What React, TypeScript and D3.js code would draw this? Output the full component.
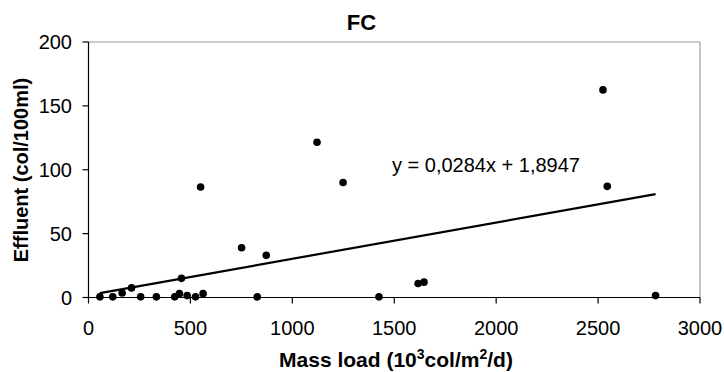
import React from "react";
import * as d3 from "d3";

const massLoad = [56, 119, 165, 211, 256, 333, 423, 446, 456, 484, 525, 550, 562, 751, 828, 872, 1121, 1249, 1425, 1617, 1646, 2524, 2545, 2782];
const effluent = [0.5, 0.5, 3.5, 7.5, 0.5, 0.5, 0.5, 3, 15, 1.5, 0.5, 86.5, 3, 39, 0.5, 33, 121.5, 90, 0.5, 11, 12, 162.5, 87, 1.5];
const xTicks = [0, 500, 1000, 1500, 2000, 2500, 3000];
const yTicks = [0, 50, 100, 150, 200];
const slope = 0.0284;
const intercept = 1.8947;
const equationLabel = "y = 0,0284x + 1,8947";

const W = 724, H = 372;
const left = 88.5, right = 700, top = 42, bottom = 297.5;
const font = "'Liberation Sans', Arial, sans-serif";

export default function App() {
  const x = d3.scaleLinear().domain([0, 3000]).range([left, right]);
  const y = d3.scaleLinear().domain([0, 200]).range([bottom, top]);
  const x0 = d3.min(massLoad)!, x1 = d3.max(massLoad)!;
  const trend = d3.line<number>().x((d) => x(d)).y((d) => y(slope * d + intercept))([x0, x1]);
  return (
    <div style={{ position: "fixed", left: 0, top: 0 }}>
      <svg width={W} height={H} style={{ display: "block", background: "#fff" }}>
        <rect x={0} y={0} width={W} height={H} fill="#fff" />
        <line x1={left} x2={right} y1={top} y2={top} stroke="#999" strokeWidth={1.2} />
        <line x1={right} x2={right} y1={top} y2={bottom} stroke="#999" strokeWidth={1.2} />
        <line x1={left} x2={right} y1={bottom} y2={bottom} stroke="#000" strokeWidth={1.2} />
        <line x1={left} x2={left} y1={top} y2={bottom} stroke="#000" strokeWidth={1.2} />
        {yTicks.map((t) => (
          <g key={"y" + t}>
            <line x1={left - 6} x2={left} y1={y(t)} y2={y(t)} stroke="#000" strokeWidth={1.2} />
            <text x={72} y={y(t)} dy="0.36em" textAnchor="end" fontFamily={font} fontSize={20}>{t}</text>
          </g>
        ))}
        {xTicks.map((t) => (
          <g key={"x" + t}>
            <line x1={x(t)} x2={x(t)} y1={bottom} y2={bottom + 6} stroke="#000" strokeWidth={1.2} />
            <text x={x(t)} y={335} textAnchor="middle" fontFamily={font} fontSize={20}>{t}</text>
          </g>
        ))}
        <path d={trend!} stroke="#000" strokeWidth={2.2} fill="none" />
        {massLoad.map((m, i) => (
          <circle key={i} cx={x(m)} cy={y(effluent[i])} r={3.8} fill="#000" />
        ))}
        <text x={392} y={171.5} fontFamily={font} fontSize={20}>{equationLabel}</text>
        <text x={361.5} y={29.5} textAnchor="middle" fontFamily={font} fontSize={22} fontWeight="bold">FC</text>
        <text x={396} y={366.5} textAnchor="middle" fontFamily={font} fontSize={21} fontWeight="bold">
          Mass load (10<tspan dy={-8} fontSize={14}>3</tspan><tspan dy={8}>col/m</tspan><tspan dy={-8} fontSize={14}>2</tspan><tspan dy={8}>/d)</tspan>
        </text>
        <text transform="translate(28,170) rotate(-90)" textAnchor="middle" fontFamily={font} fontSize={20} fontWeight="bold">Effluent (col/100ml)</text>
      </svg>
    </div>
  );
}
